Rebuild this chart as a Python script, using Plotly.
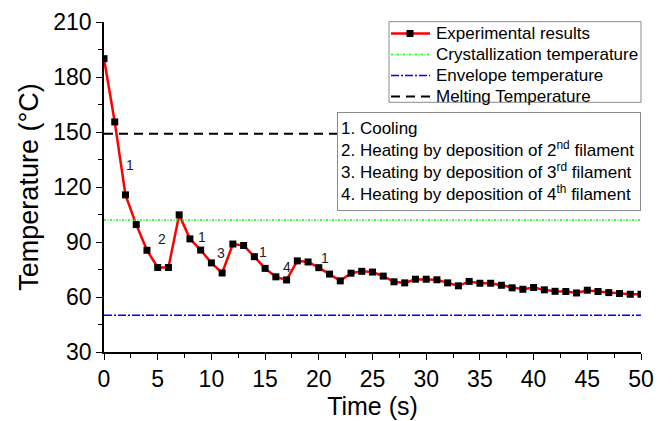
import plotly.graph_objects as go

# ---- data ----
time_s = list(range(0, 51))
temp_c = [190, 155.5, 115.7, 99.5, 85.5, 76.1, 76.1, 104.8, 91.7, 85.6, 78.6,
          73.1, 88.9, 88.1, 82.0, 75.6, 71.0, 69.3, 79.7, 79.1, 76.0,
          72.5, 68.8, 73.0, 74.0, 73.6, 71.4, 68.3, 67.7, 69.7, 69.7,
          69.4, 67.7, 66.1, 68.5, 67.5, 67.5, 66.4, 65.0, 64.2, 65.2,
          63.9, 63.1, 63.0, 62.2, 63.7, 63.0, 62.4, 61.9, 61.5, 61.5]
crystallization_temp = 102
envelope_temp = 50
melting_temp = 149

phase_labels = ["1", "2", "1", "3", "1", "4", "1"]
phase_label_x = [2.4, 5.4, 9.1, 10.9, 14.8, 17.0, 20.6]
phase_label_y = [132, 91.5, 92.5, 84, 84.8, 76.5, 81.5]

x_ticks = list(range(0, 51, 5))
y_ticks = list(range(30, 211, 30))

series_names = ["Experimental results", "Crystallization temperature",
                "Envelope temperature", "Melting Temperature"]

notes = [
    "1. Cooling",
    "2. Heating by deposition of 2<sup>nd</sup> filament",
    "3. Heating by deposition of 3<sup>rd</sup> filament",
    "4. Heating by deposition of 4<sup>th</sup> filament",
]

# ---- layout geometry (pixels) ----
W, H = 672, 421
L, R, T, B = 104, 31, 22, 69
PW, PH = W - L - R, H - T - B


def px_x(p):
    return (p - L) / PW


def px_y(p):
    return (H - B - p) / PH


FONT = "Liberation Sans, Arial, sans-serif"
ref_x = [time_s[0], time_s[-1]]

styles = [
    dict(color="#FF0000", width=2.5),
    dict(color="#00FF00", width=1.5, dash="2px,1.5px,1px,1.5px"),
    dict(color="#0000FF", width=1.5, dash="8px,2px,2px,2px"),
    dict(color="black", width=2, dash="9px,6px"),
]

fig = go.Figure()
fig.add_trace(go.Scatter(
    x=time_s, y=temp_c, mode="lines+markers", name=series_names[0],
    line=styles[0], marker=dict(symbol="square", size=7, color="black"),
    showlegend=False,
))
for name, val, st in zip(series_names[1:],
                         [crystallization_temp, envelope_temp, melting_temp],
                         styles[1:]):
    fig.add_trace(go.Scatter(x=ref_x, y=[val] * 2, mode="lines", name=name,
                             line=st, showlegend=False))

for t, xx, yy in zip(phase_labels, phase_label_x, phase_label_y):
    fig.add_annotation(x=xx, y=yy, xref="x", yref="y", text=t, showarrow=False,
                       font=dict(family=FONT, size=14, color="#222222"))

# ---- custom legend box ----
leg_left, leg_top, leg_bottom = 389, 21.7, 102.3
fig.add_shape(type="rect", xref="paper", yref="paper",
              x0=px_x(leg_left), x1=1.0, y0=px_y(leg_bottom), y1=px_y(leg_top),
              line=dict(color="#8a8a8a", width=1), fillcolor="white", layer="above")
for i, (name, st) in enumerate(zip(series_names, styles)):
    yc = 33.5 + 21 * i
    fig.add_shape(type="line", xref="paper", yref="paper",
                  x0=px_x(391), x1=px_x(430), y0=px_y(yc), y1=px_y(yc),
                  line=st, layer="above")
    if i == 0:
        fig.add_shape(type="rect", xref="paper", yref="paper",
                      x0=px_x(406.5), x1=px_x(413.5), y0=px_y(yc + 3.5), y1=px_y(yc - 3.5),
                      line=dict(width=0), fillcolor="black", layer="above")
    fig.add_annotation(xref="paper", yref="paper", x=px_x(434), y=px_y(yc),
                       xanchor="left", yanchor="middle", text=name, showarrow=False,
                       font=dict(family=FONT, size=17, color="black"))

# ---- notes box ----
fig.add_annotation(
    xref="paper", yref="paper", x=1.0, y=px_y(111.7), xanchor="right", yanchor="top",
    text="<br>".join(notes), showarrow=False, align="left", valign="middle",
    width=296, height=91, borderpad=3, bordercolor="#8a8a8a", borderwidth=1,
    bgcolor="white", font=dict(family=FONT, size=17, color="black"),
)

axis_common = dict(
    showline=True, linecolor="black", linewidth=1.5, mirror=False,
    ticks="outside", ticklen=6, tickwidth=1.3, tickcolor="black",
    showgrid=False, zeroline=False, automargin=False,
    tickfont=dict(family=FONT, size=23, color="black"),
)

fig.update_xaxes(
    range=[0, 50], tickvals=x_ticks,
    title=dict(text="Time (s)", font=dict(family=FONT, size=25, color="black"), standoff=5),
    minor=dict(dtick=2.5, ticks="outside", ticklen=4, tickwidth=1.2, tickcolor="black"),
    **axis_common,
)
fig.update_yaxes(
    range=[30, 210], tickvals=y_ticks,
    title=dict(text="Temperature (°C)", font=dict(family=FONT, size=27, color="black"), standoff=7),
    minor=dict(dtick=15, ticks="outside", ticklen=4, tickwidth=1.2, tickcolor="black"),
    **axis_common,
)

fig.update_layout(
    width=W, height=H,
    margin=dict(l=L, r=R, t=T, b=B),
    paper_bgcolor="white", plot_bgcolor="white",
    font=dict(family=FONT, color="black"),
    showlegend=False,
)

fig.write_html(
    "out.html",
    config={"displayModeBar": False},
    post_script="document.body.style.margin='0';document.body.style.overflow='hidden';",
)
